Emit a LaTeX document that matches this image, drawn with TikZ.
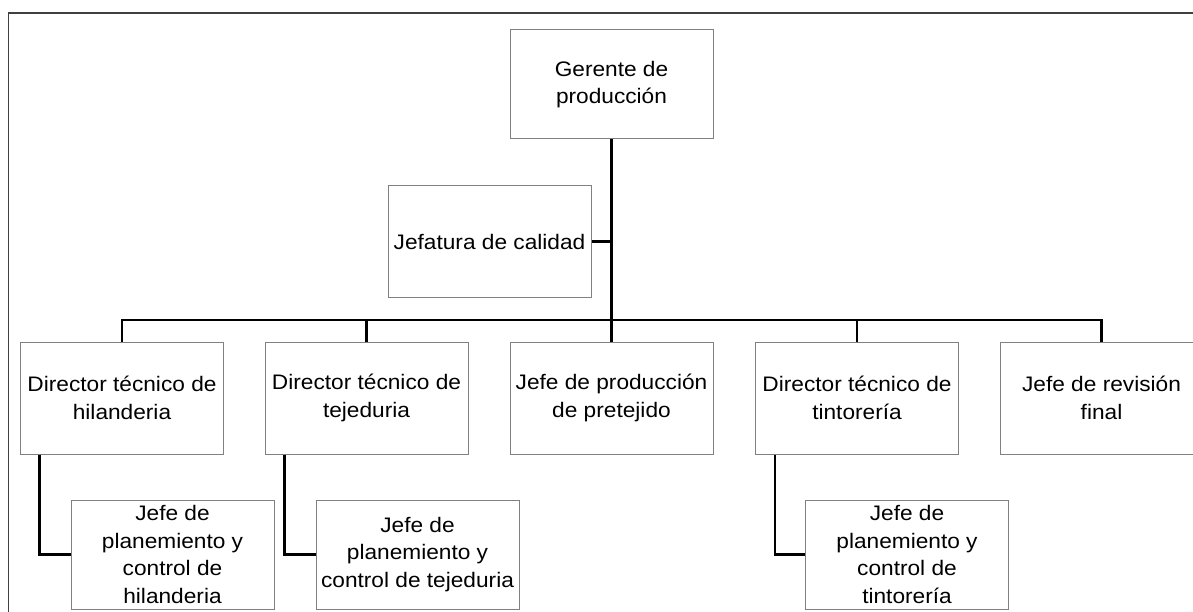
\documentclass[tikz,border=0pt]{standalone}
\usepackage{fontspec}
\setmainfont[FakeStretch=1.08]{Liberation Sans}
\usetikzlibrary{calc}
\begin{document}
\begin{tikzpicture}[x=1pt,y=-1pt,
  orgbox/.style={draw=black!50, line width=1pt, fill=white, inner sep=0pt,
    minimum width=203pt, minimum height=110pt, align=center,
    font=\fontsize{21}{27.5}\selectfont},
  link/.style={draw=black, line width=2.6pt},
  frameline/.style={draw=black!75, line width=1.6pt}]
\useasboundingbox (0,0) rectangle (1193,612);
\fill[white] (0,0) rectangle (1193,612);
% outer frame (top and left edges only)
\draw[frameline] (1193,13) -- (8.5,13) -- (8.5,612);

% boxes
\node[orgbox, minimum height=109pt] (g) at (611.5,84.5) {Gerente de\\producción};
\node[orgbox, minimum height=111pt] (q) at (489.5,241.5) {Jefatura de calidad};

\node[orgbox, minimum height=112pt] (d1) at (122,398) {Director técnico de\\hilanderia};
\node[orgbox, minimum height=112pt] (d2) at (366.5,398) {Director técnico de\\tejeduria};
\node[orgbox, minimum height=112pt] (d3) at (611.5,398) {Jefe de producción\\de pretejido};
\node[orgbox, minimum height=112pt] (d4) at (857,398) {Director técnico de\\tintorería};
\node[orgbox, minimum height=112pt] (d5) at (1101.5,398) {Jefe de revisión\\final};

\node[orgbox, minimum height=109pt] (s1) at (172.5,554.5) {Jefe de\\planemiento y\\control de\\hilanderia};
\node[orgbox, minimum height=109pt] (s2) at (417.5,554.5) {Jefe de\\planemiento y\\control de tejeduria};
\node[orgbox, minimum height=109pt] (s3) at (907,554.5) {Jefe de\\planemiento y\\control de\\tintorería};

% bus level
\coordinate (bus) at (0,320);

% connectors
\draw[link] (g.south) -- (g.south |- bus);
\draw[link] (q.east) -- (q.east -| g.south);
\draw[link] (d1.north) -- (d1.north |- bus) -- (d5.north |- bus) -- (d5.north);
\draw[link] (d2.north) -- (d2.north |- bus);
\draw[link] (d3.north) -- (d3.north |- bus);
\draw[link] (d4.north) -- (d4.north |- bus);

\draw[link] ($(d1.south west)+(19.5,0)$) |- (s1.west);
\draw[link] ($(d2.south west)+(20,0)$) |- (s2.west);
\draw[link] ($(d4.south west)+(20,0)$) |- (s3.west);
\end{tikzpicture}
\end{document}
